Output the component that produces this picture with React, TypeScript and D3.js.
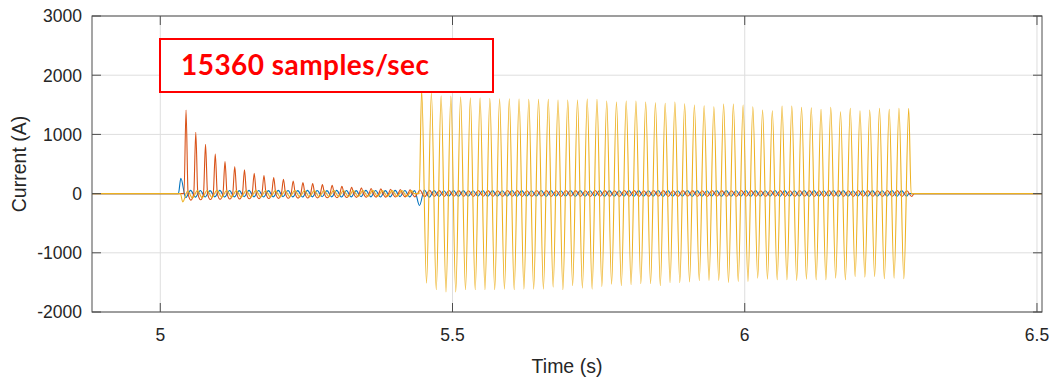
import { useEffect, useRef } from 'react'
import * as d3 from 'd3'

const FREQ = 60 // Hz
const T_MIN = 4.8832
const T_MAX = 6.5086

const xTicks = [5, 5.5, 6, 6.5]
const yTicks = [-2000, -1000, 0, 1000, 2000, 3000]

// phase A (blue): spike at fault start, small ripple, dip when phase C faults
const blueStart = 5.0352
const bluePeaks = [
  260, 55, 52, 50, 55, 52, 50, 55, 52, 50, 55, 52, 50, 55, 52, 50, 55, 52, 50, 55, 52, 50, 55, 52, 50,
  60, 50, 48, 52, 50, 48, 52, 50, 48, 52, 50, 48, 52, 50, 48, 52, 50, 48, 52, 50,
  48, 52, 50, 48, 52, 50, 48, 52, 50, 48, 52, 50, 48, 52, 50, 48, 52, 50, 48, 52,
  50, 48, 52, 50, 48, 52, 50, 48, 52, 50,
]
const blueTroughs = [
  -70, -60, -58, -55, -58, -55, -52, -55, -58, -55, -52, -55, -58, -55, -52, -55, -58, -55, -52, -55, -58, -55, -52, -55, -200,
  -60, -50, -45, -48, -45, -42, -48, -45, -42, -48, -45, -42, -48, -45, -42, -48, -45, -42, -48, -45,
  -42, -48, -45, -42, -48, -45, -42, -48, -45, -42, -48, -45, -42, -48, -45, -42, -48, -45, -42, -48,
  -45, -42, -48, -45, -42, -48, -45, -42, -48, -45,
]

// phase B (orange): narrow decaying inrush-like spikes, then ripple
const orangeStart = 5.0441
const orangeSpikeHalfWidth = 0.0035 // s, spike foot on each side of a peak
const orangeSpikePeaks = [
  1411, 1035, 833, 669, 540, 455, 400, 344, 304, 270, 243, 214, 186, 169, 152, 141, 124, 108, 96, 85, 79, 74, 70, 65,
]
const orangeSpikeTroughs = [
  -110, -105, -100, -96, -92, -90, -88, -85, -82, -80, -78, -76, -74, -72, -70, -68, -66, -64, -62, -60, -60, -58, -56, -55,
]
const orangeRippleStart = orangeStart + orangeSpikePeaks.length / FREQ
const orangeRipplePeaks = [
  60, 55, 50, 52, 50, 48, 52, 50, 48, 52, 50, 48, 52, 50, 48, 52, 50, 48, 52, 50, 48,
  52, 50, 48, 52, 50, 48, 52, 50, 48, 52, 50, 48, 52, 50, 48, 52, 50, 48, 52, 50,
  48, 52, 50, 48, 52, 50, 48, 52, 50, 48,
]
const orangeRippleTroughs = [
  -55, -50, -48, -45, -48, -50, -45, -48, -50, -45, -48, -50, -45, -48, -50, -45, -48, -50, -45, -48, -50,
  -45, -48, -50, -45, -48, -50, -45, -48, -50, -45, -48, -50, -45, -48, -50, -45, -48, -50, -45, -48,
  -50, -45, -48, -50, -45, -48, -50, -45, -48, -50,
]

// phase C (yellow): ripple during first fault
const yellowRippleStart = 5.0385
const yellowRippleTroughs = [
  -140, -75, -70, -65, -62, -60, -60, -58, -58, -56, -56, -55, -55, -54, -54, -52, -52, -52, -50, -50, -50, -50, -50, -50,
]
const yellowRipplePeaks = [
  45, 50, 52, 55, 52, 50, 52, 55, 52, 50, 52, 55, 52, 50, 52, 55, 52, 50, 52, 55, 52, 50, 52, 50,
]

// phase C (yellow): large fault current
const yellowFaultStart = 5.4472
const yellowPeaks = [
  1750, 1700, 1653, 1647, 1636, 1619, 1619, 1608, 1602, 1602, 1597, 1591, 1591, 1591, 1580, 1580, 1580,
  1597, 1591, 1563, 1546, 1563, 1563, 1546, 1535, 1524, 1546, 1518, 1496, 1484, 1467, 1512, 1512, 1496,
  1467, 1411, 1400, 1478, 1478, 1456, 1450, 1422, 1456, 1383, 1439, 1400, 1411, 1439, 1422, 1439, 1439,
]
const yellowTroughs = [
  -1511, -1624, -1663, -1663, -1624, -1624, -1624, -1624, -1613, -1624, -1613, -1613, -1613, -1579, -1624,
  -1557, -1596, -1613, -1568, -1529, -1557, -1540, -1523, -1523, -1557, -1505, -1505, -1492, -1470, -1467,
  -1467, -1500, -1483, -1483, -1427, -1445, -1456, -1456, -1467, -1445, -1456, -1456, -1427, -1456, -1400,
  -1411, -1400, -1439, -1427, -1439,
]

type Pt = [number, number]

// alternating extremes, one every half period, starting at t0.
// spike > 0 adds zero-level feet around each of the first extremes.
function wave(t0: number, first: number[], second: number[], spike = 0): Pt[] {
  const half = 1 / (2 * FREQ)
  const pts: Pt[] = [[t0 - (spike || half / 2), 0]]
  first.forEach((v, i) => {
    const tp = t0 + 2 * i * half
    if (spike && i > 0) pts.push([tp - spike, 0])
    pts.push([tp, v])
    if (spike) pts.push([tp + spike, 0])
    if (i < second.length) pts.push([tp + half, second[i]])
  })
  pts.push([pts[pts.length - 1][0] + half / 2, 0])
  return pts
}

const series = [
  { color: '#0072BD', pts: [[T_MIN, 0] as Pt, ...wave(blueStart, bluePeaks, blueTroughs), [T_MAX, 0] as Pt] },
  {
    color: '#D95319',
    pts: [
      [T_MIN, 0] as Pt,
      ...wave(orangeStart, orangeSpikePeaks, orangeSpikeTroughs, orangeSpikeHalfWidth),
      ...wave(orangeRippleStart, orangeRipplePeaks, orangeRippleTroughs),
      [T_MAX, 0] as Pt,
    ],
  },
  {
    color: '#EDB120',
    pts: [
      [T_MIN, 0] as Pt,
      ...wave(yellowRippleStart, yellowRippleTroughs, yellowRipplePeaks),
      ...wave(yellowFaultStart, yellowPeaks, yellowTroughs),
      [T_MAX, 0] as Pt,
    ],
  },
]

export default function App() {
  const ref = useRef<SVGSVGElement>(null)

  useEffect(() => {
    if (!ref.current) return
    const svg = d3.select(ref.current)
    svg.selectAll('*').remove()

    const left = 92, right = 1042, top = 16, bottom = 312
    const x = d3.scaleLinear().domain([T_MIN, T_MAX]).range([left, right])
    const y = d3.scaleLinear().domain([-2000, 3000]).range([bottom, top])
    const font = "'Liberation Sans', Arial, sans-serif"
    const tickLen = 9

    // grid
    svg.append('g')
      .selectAll('line')
      .data(xTicks)
      .enter()
      .append('line')
      .attr('x1', d => x(d)).attr('x2', d => x(d))
      .attr('y1', top).attr('y2', bottom)
      .attr('stroke', '#dedede').attr('stroke-width', 1)
    svg.append('g')
      .selectAll('line')
      .data(yTicks)
      .enter()
      .append('line')
      .attr('x1', left).attr('x2', right)
      .attr('y1', d => y(d)).attr('y2', d => y(d))
      .attr('stroke', '#dedede').attr('stroke-width', 1)

    svg.append('clipPath').attr('id', 'plot-clip')
      .append('rect')
      .attr('x', left).attr('y', top)
      .attr('width', right - left).attr('height', bottom - top)

    const line = d3.line<Pt>()
      .x(d => x(d[0]))
      .y(d => y(d[1]))
      .curve(d3.curveMonotoneX)

    const lines = svg.append('g').attr('clip-path', 'url(#plot-clip)')
    series.forEach(s => {
      lines.append('path')
        .attr('d', line(s.pts))
        .attr('fill', 'none')
        .attr('stroke', s.color)
        .attr('stroke-width', 1.1)
        .attr('stroke-linejoin', 'round')
    })

    // box and inward ticks (mirrored)
    const axisColor = '#4d4d4d'
    svg.append('rect')
      .attr('x', left).attr('y', top)
      .attr('width', right - left).attr('height', bottom - top)
      .attr('fill', 'none').attr('stroke', axisColor).attr('stroke-width', 1)

    const ticks = svg.append('g').attr('stroke', axisColor).attr('stroke-width', 1)
    xTicks.forEach(t => {
      ticks.append('line').attr('x1', x(t)).attr('x2', x(t)).attr('y1', bottom).attr('y2', bottom - tickLen)
      ticks.append('line').attr('x1', x(t)).attr('x2', x(t)).attr('y1', top).attr('y2', top + tickLen)
    })
    yTicks.forEach(t => {
      ticks.append('line').attr('x1', left).attr('x2', left + tickLen).attr('y1', y(t)).attr('y2', y(t))
      ticks.append('line').attr('x1', right).attr('x2', right - tickLen).attr('y1', y(t)).attr('y2', y(t))
    })

    // tick labels
    svg.append('g')
      .selectAll('text')
      .data(xTicks)
      .enter()
      .append('text')
      .attr('x', d => x(d))
      .attr('y', 340.5)
      .attr('text-anchor', 'middle')
      .style('font-family', font)
      .style('font-size', '17.5px')
      .style('fill', '#262626')
      .text(d => String(d))

    svg.append('g')
      .selectAll('text')
      .data(yTicks)
      .enter()
      .append('text')
      .attr('x', 82)
      .attr('y', d => y(d) + 6.3)
      .attr('text-anchor', 'end')
      .style('font-family', font)
      .style('font-size', '17.5px')
      .style('fill', '#262626')
      .text(d => String(d))

    // axis labels
    svg.append('text')
      .attr('x', (left + right) / 2)
      .attr('y', 372.5)
      .attr('text-anchor', 'middle')
      .style('font-family', font)
      .style('font-size', '19.5px')
      .style('fill', '#262626')
      .text('Time (s)')

    svg.append('text')
      .attr('transform', `translate(26,${(top + bottom) / 2}) rotate(-90)`)
      .attr('text-anchor', 'middle')
      .style('font-family', font)
      .style('font-size', '19.5px')
      .style('fill', '#262626')
      .text('Current (A)')

    // annotation box
    svg.append('rect')
      .attr('x', 160).attr('y', 39)
      .attr('width', 333).attr('height', 53)
      .attr('fill', '#fff')
      .attr('stroke', '#ff0000')
      .attr('stroke-width', 2)

    svg.append('text')
      .attr('x', 181)
      .attr('y', 75)
      .attr('textLength', 248)
      .style('font-family', "Lato, 'Open Sans', sans-serif")
      .style('font-weight', '700')
      .style('font-size', '28px')
      .style('fill', '#ff0000')
      .text('15360 samples/sec')
  }, [])

  return (
    <svg
      ref={ref}
      width={1063}
      height={377}
      style={{ position: 'absolute', left: 0, top: 0, background: '#fff' }}
    />
  )
}
